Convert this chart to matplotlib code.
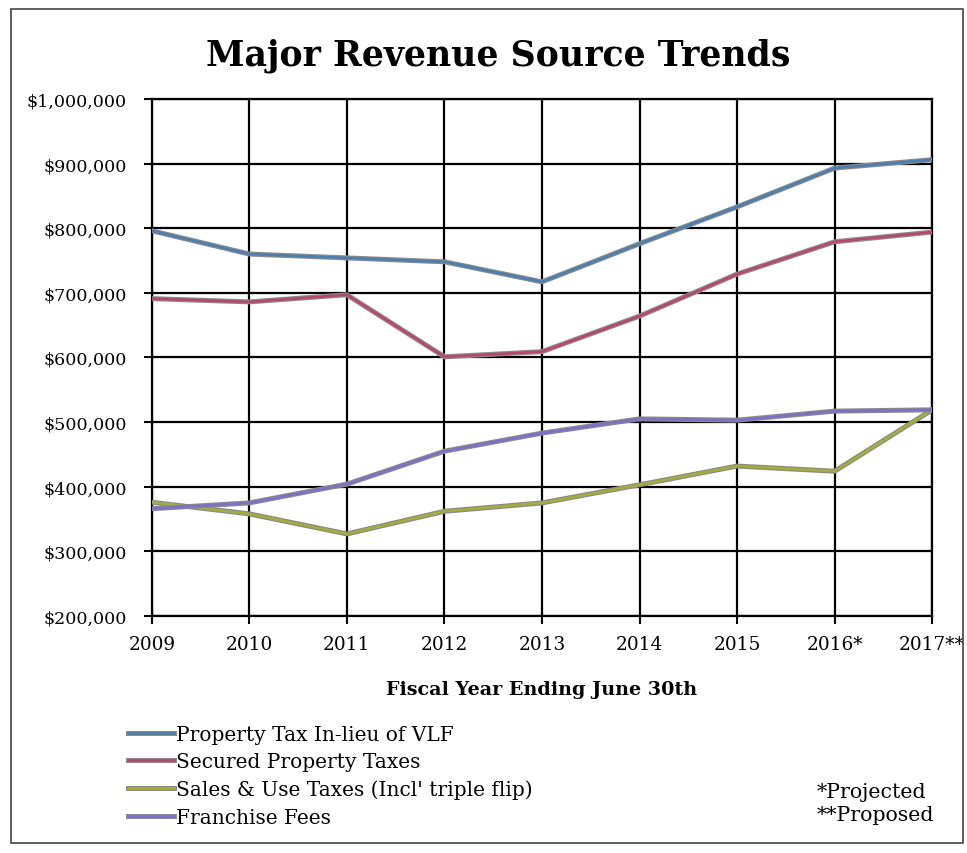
import matplotlib
matplotlib.use('Agg')

import matplotlib.pyplot as plt
import matplotlib.ticker as mtick
import matplotlib.patheffects as pe
from matplotlib.lines import Line2D

years = ['2009', '2010', '2011', '2012', '2013', '2014', '2015', '2016*', '2017**']

vlf = [796000, 760000, 754000, 748000, 717000, 776000, 833000, 893000, 906000]
secured = [691000, 686000, 697000, 601000, 609000, 664000, 729000, 779000, 794000]
sales = [376000, 358000, 327000, 362000, 375000, 403000, 432000, 424000, 519000]
franchise = [366000, 375000, 404000, 455000, 483000, 505000, 503000, 517000, 519000]

series = [
    ('Property Tax In-lieu of VLF', vlf, '#4a7fb0'),
    ('Secured Property Taxes', secured, '#b8486a'),
    ('Sales & Use Taxes (Incl\' triple flip)', sales, '#a3ad3c'),
    ('Franchise Fees', franchise, '#7c70c8'),
]

plt.rcParams['font.family'] = 'DejaVu Serif'

fig = plt.figure(figsize = (9.67, 8.54), dpi = 100)
ax = fig.add_axes([0.157, 0.2775, 0.807, 0.6055])

x = list(range(len(years)))
shadow = [pe.Stroke(linewidth = 3.6, foreground = '#8a8a8a'), pe.Normal()]
for name, vals, color in series:
    ax.plot(x, vals, color = color, lw = 1.9, label = name, path_effects = shadow, zorder = 3)

ax.set_xlim(0, len(years) - 1)
ax.set_ylim(200000, 1000000)
ax.set_xticks(x)
ax.set_xticklabels(years, fontsize = 13.3)
ax.yaxis.set_major_locator(mtick.MultipleLocator(100000))
ax.yaxis.set_major_formatter(mtick.StrMethodFormatter('${x:,.0f}'))
ax.tick_params(axis = 'y', labelsize = 12.6, length = 6, width = 1.5, direction = 'out', pad = 12)
ax.tick_params(axis = 'x', length = 6, width = 1.5, direction = 'out', pad = 8)

ax.grid(True, color = 'black', lw = 1.6)
for s in ax.spines.values():
    s.set_linewidth(1.6)
    s.set_color('black')

ax.set_xlabel('Fiscal Year Ending June 30th', fontsize = 13.8, fontweight = 'bold', labelpad = 19)

fig.text(0.515, 0.935, 'Major Revenue Source Trends', fontsize = 25, fontweight = 'bold',
         ha = 'center', va = 'center')

handles = [Line2D([], [], color = c, lw = 1.9, path_effects = shadow) for _, _, c in series]
fig.legend(handles, [n for n, _, _ in series], loc = 'upper left', bbox_to_anchor = (0.122, 0.162),
           bbox_transform = fig.transFigure, frameon = False, fontsize = 14.5, handlelength = 2.3,
           handletextpad = 0.1, labelspacing = 0.42, borderpad = 0)

fig.text(0.845, 0.0585, '*Projected\n**Proposed', fontsize = 14.8, ha = 'left', va = 'center',
         linespacing = 1.3)

fig.patches.append(plt.Rectangle((0.011, 0.012), 0.985, 0.976, transform = fig.transFigure,
                                 fill = False, edgecolor = '#444444', lw = 1.2))

fig.savefig('out.png', dpi = 100)
